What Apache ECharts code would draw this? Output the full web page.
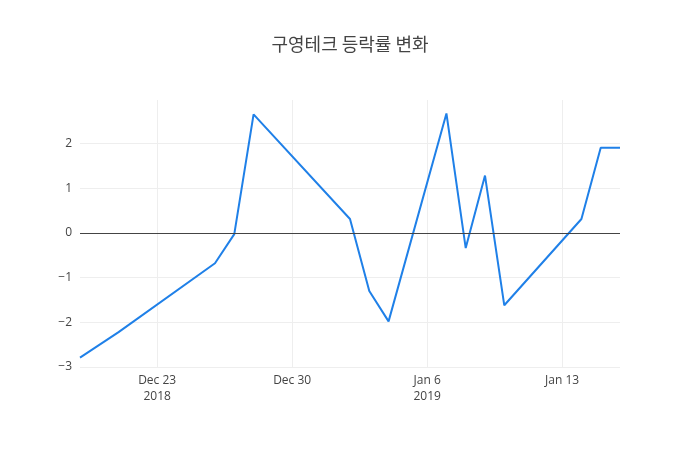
<!DOCTYPE html>
<html>
<head>
<meta charset="utf-8">
<script src="https://cdn.jsdelivr.net/npm/echarts@6/dist/echarts.min.js"></script>
<style>
  html, body { margin: 0; padding: 0; background: #fff; }
  #chart { width: 700px; height: 450px; }
</style>
</head>
<body>
<div id="chart"></div>
<script>
// trading days and daily change (%)
var dates = ['2018-12-19', '2018-12-21', '2018-12-26', '2018-12-27', '2018-12-28',
  '2019-01-02', '2019-01-03', '2019-01-04', '2019-01-07', '2019-01-08',
  '2019-01-09', '2019-01-10', '2019-01-14', '2019-01-15', '2019-01-16'];
var rates = [-2.79, -2.22, -0.68, -0.03, 2.65,
  0.31, -1.30, -1.98, 2.67, -0.34,
  1.28, -1.62, 0.31, 1.90, 1.90];
var yTicks = [-3, -2, -1, 0, 1, 2];
var tickDates = ['2018-12-23', '2018-12-30', '2019-01-06', '2019-01-13'];
var tickLabels = ['Dec 23\n2018', 'Dec 30', 'Jan 6\n2019', 'Jan 13'];

// every calendar day from first to last date, so spacing follows real time
function fmt(d) {
  var m = d.getMonth() + 1, day = d.getDate();
  return d.getFullYear() + '-' + (m < 10 ? '0' + m : m) + '-' + (day < 10 ? '0' + day : day);
}
var days = [];
var cur = new Date(dates[0] + 'T00:00:00');
var end = new Date(dates[dates.length - 1] + 'T00:00:00');
while (cur <= end) {
  days.push(fmt(cur));
  cur.setDate(cur.getDate() + 1);
}
var values = days.map(function (d) {
  var i = dates.indexOf(d);
  return i < 0 ? null : rates[i];
});
function isTick(idx) {
  return tickDates.indexOf(days[idx]) >= 0;
}

var chart = echarts.init(document.getElementById('chart'));
var option = {
  backgroundColor: '#fff',
  animation: false,
  title: {
    text: '구영테크 등락률 변화',
    left: 'center',
    top: 30,
    textStyle: {
      fontFamily: 'Noto Sans CJK KR',
      fontSize: 18,
      fontWeight: 'normal',
      color: '#444'
    }
  },
  grid: {
    left: 80,
    right: 80,
    top: 100,
    bottom: 83
  },
  xAxis: {
    type: 'category',
    data: days,
    boundaryGap: false,
    axisLine: { show: false },
    axisTick: { show: false },
    axisLabel: {
      interval: function (idx) { return isTick(idx); },
      formatter: function (v) {
        var i = tickDates.indexOf(v);
        return i < 0 ? '' : tickLabels[i];
      },
      color: '#444',
      fontFamily: 'Open Sans',
      fontSize: 12,
      lineHeight: 16,
      margin: 6
    },
    splitLine: {
      show: true,
      interval: function (idx) { return isTick(idx); },
      lineStyle: { color: '#eee', width: 1 }
    }
  },
  yAxis: {
    type: 'value',
    min: yTicks[0],
    max: 2.97,
    interval: 1,
    axisLine: { show: false },
    axisTick: { show: false },
    axisLabel: {
      showMaxLabel: false,
      color: '#444',
      fontFamily: 'Open Sans',
      fontSize: 12,
      margin: 8,
      formatter: function (v) { return String(v).replace('-', '\u2212'); }
    },
    splitLine: {
      showMaxLine: false,
      lineStyle: { color: '#eee', width: 1 }
    }
  },
  series: [{
    type: 'line',
    data: values,
    connectNulls: true,
    showSymbol: false,
    symbol: 'none',
    lineStyle: { color: '#1f80e8', width: 2 },
    markLine: {
      silent: true,
      symbol: 'none',
      label: { show: false },
      lineStyle: { color: '#444', width: 1, type: 'solid' },
      data: [{ yAxis: 0 }]
    },
    z: 3
  }]
};
chart.setOption(option);
</script>
</body>
</html>
